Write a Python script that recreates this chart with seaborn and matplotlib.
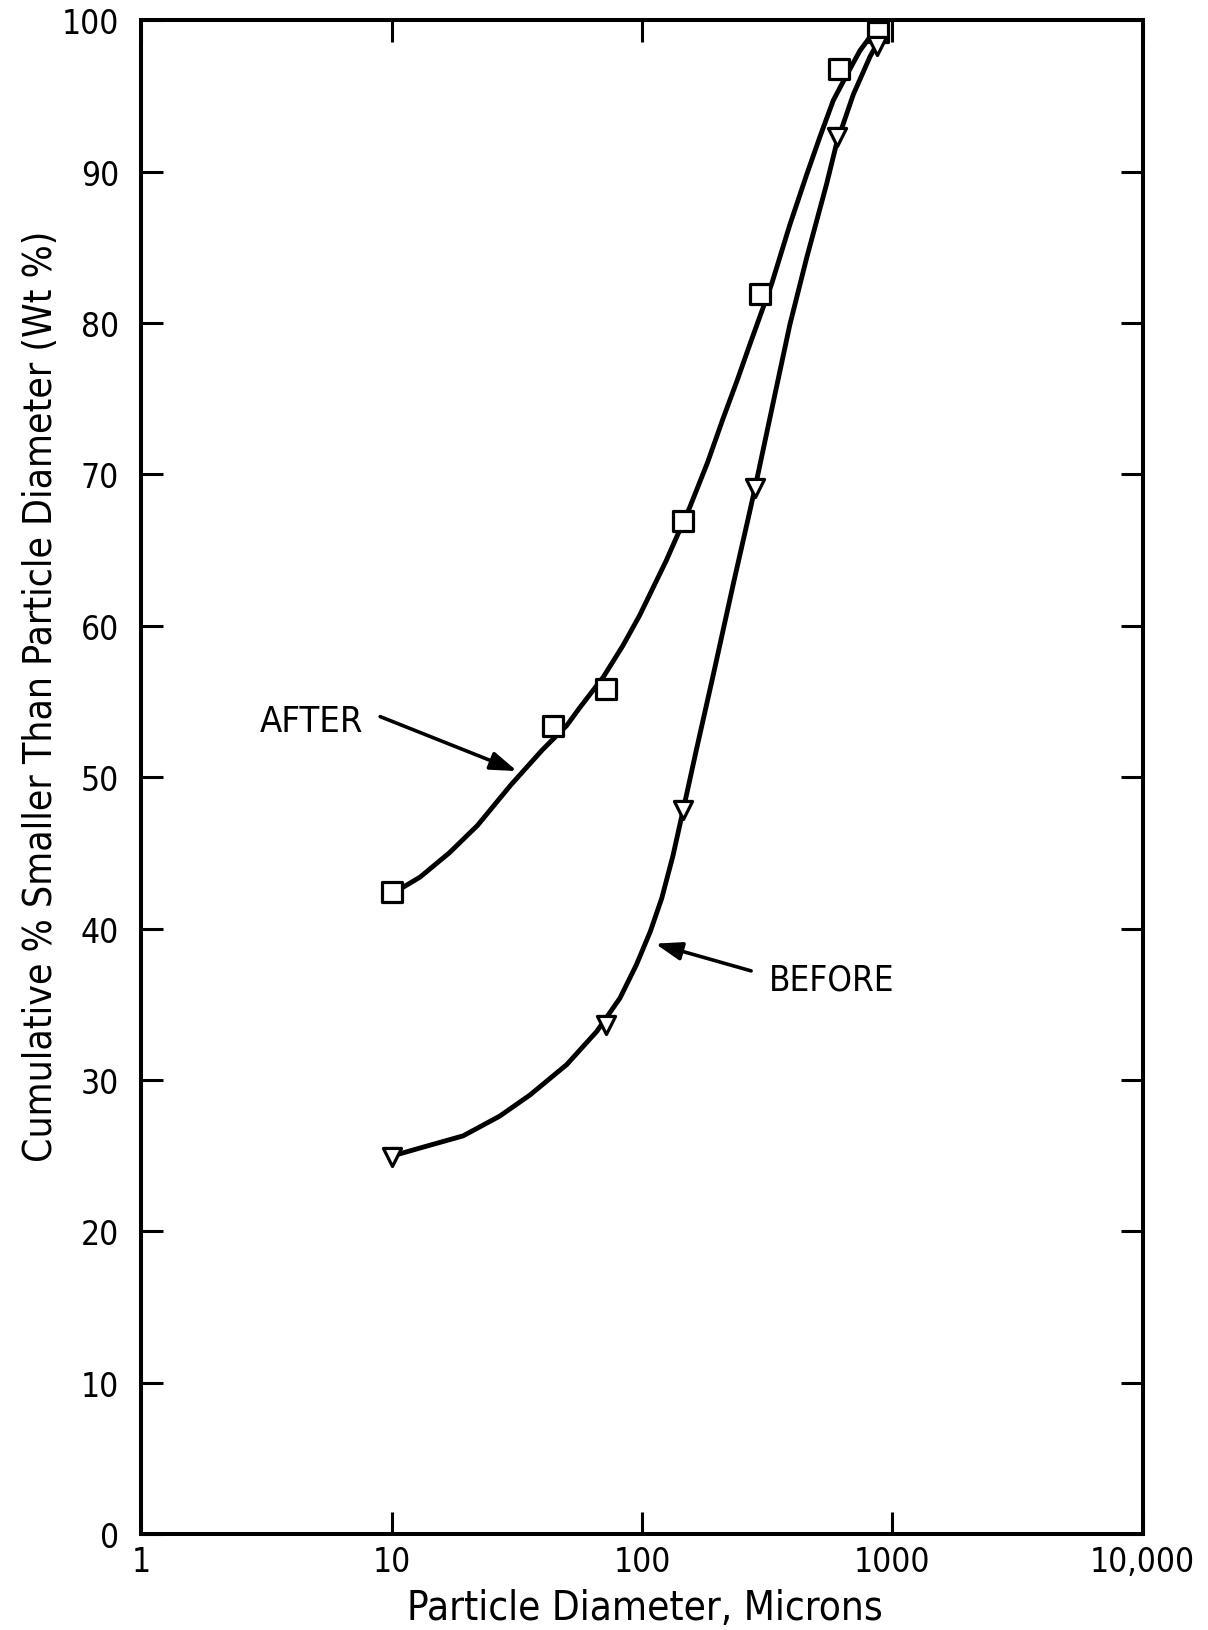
import numpy as np
import pandas as pd
import seaborn as sns
import matplotlib
matplotlib.use('Agg')
import matplotlib.pyplot as plt

after_x = [10, 44, 72, 146, 295, 615, 875]
after_y = [42.4, 53.4, 55.8, 66.9, 81.9, 96.8, 99.2]

before_x = [10, 72, 146, 282, 600, 867]
before_y = [24.9, 33.6, 47.8, 69.1, 92.3, 98.3]

# hand drawn fit curves
after_curve_x = [10.3, 13, 17, 22, 30, 40, 50, 56.5, 70, 84, 98, 125, 155, 183,
                 211, 240, 270, 330, 390, 455, 514, 581, 658, 743, 815, 865]
after_curve_y = [42.4, 43.4, 45.0, 46.8, 49.5, 51.8, 53.4, 54.6, 56.6, 58.7, 60.7, 64.3, 67.8, 70.8,
                 73.7, 76.2, 78.6, 82.6, 86.5, 89.8, 92.3, 94.7, 96.4, 98.0, 98.9, 99.3]

before_curve_x = [10.2, 13, 19.3, 27, 35.7, 50, 66, 81.7, 95, 108, 120, 133, 146,
                  165, 193, 232, 265, 283, 335, 390, 455, 547, 600, 699, 815, 860]
before_curve_y = [25.0, 25.5, 26.3, 27.6, 29.0, 31.0, 33.2, 35.4, 37.6, 39.8, 42.0, 44.8, 47.8,
                  51.8, 56.8, 62.8, 67.0, 69.1, 74.8, 79.9, 84.3, 89.2, 91.9, 95.1, 97.6, 98.3]

x_ticks = [1, 10, 100, 1000, 10000]
x_tick_labels = ['1', '10', '100', '1000', '10,000']
y_ticks = list(range(0, 101, 10))

sns.set_style('ticks')
plt.rcParams['font.family'] = ['DejaVu Sans']
plt.rcParams['font.stretch'] = 'condensed'
for key in ['text.color', 'axes.labelcolor', 'xtick.color', 'ytick.color']:
    plt.rcParams[key] = 'black'

fig = plt.figure(figsize=(12.08, 16.31), dpi=100)
ax = fig.add_axes([0.117, 0.0589, 0.8288, 0.928])

df_after = pd.DataFrame({'x': after_curve_x, 'y': after_curve_y})
df_before = pd.DataFrame({'x': before_curve_x, 'y': before_curve_y})
sns.lineplot(data=df_after, x='x', y='y', sort=False, color='black', linewidth=3.5, ax=ax)
sns.lineplot(data=df_before, x='x', y='y', sort=False, color='black', linewidth=3.5, ax=ax)

sns.scatterplot(x=after_x, y=after_y, marker='s', s=190, facecolor='white',
                edgecolor='black', linewidth=2.3, zorder=5, clip_on=False, ax=ax)
sns.scatterplot(x=before_x, y=before_y, marker='v', s=170, facecolor='white',
                edgecolor='black', linewidth=2.3, zorder=5, clip_on=False, ax=ax)

ax.set_xscale('log')
ax.set_xlim(1, 10000)
ax.set_ylim(0, 100)
ax.set_xticks(x_ticks)
ax.set_xticklabels(x_tick_labels)
ax.set_yticks(y_ticks)
ax.minorticks_off()
ax.tick_params(axis='both', which='major', direction='in', length=16, width=2.2,
               top=True, right=True, labelsize=24)
ax.tick_params(axis='y', pad=16)
ax.tick_params(axis='x', pad=8)
for sp in ax.spines.values():
    sp.set_visible(True)
    sp.set_linewidth(2.9)
    sp.set_color('black')

ax.set_xlabel('Particle Diameter, Microns', fontsize=29)
ax.set_ylabel('Cumulative % Smaller Than Particle Diameter (Wt %)', fontsize=28)
ax.xaxis.set_label_coords(0.503, -0.036)
ax.yaxis.set_label_coords(-0.081, 0.554)

# labels with arrows
arrow = dict(arrowstyle='-|>,head_length=1.6,head_width=0.55', lw=2.6, color='black',
             shrinkA=0, shrinkB=0)
ax.text(4.8, 53.7, 'AFTER', fontsize=26, ha='center', va='center')
ax.annotate('', xy=(31.7, 50.4), xytext=(9.0, 54.0), arrowprops=arrow)
ax.text(574, 36.6, 'BEFORE', fontsize=25, ha='center', va='center')
ax.annotate('', xy=(113, 39.0), xytext=(273, 37.2), arrowprops=arrow)

fig.savefig('out.png', dpi=100, facecolor='white')
